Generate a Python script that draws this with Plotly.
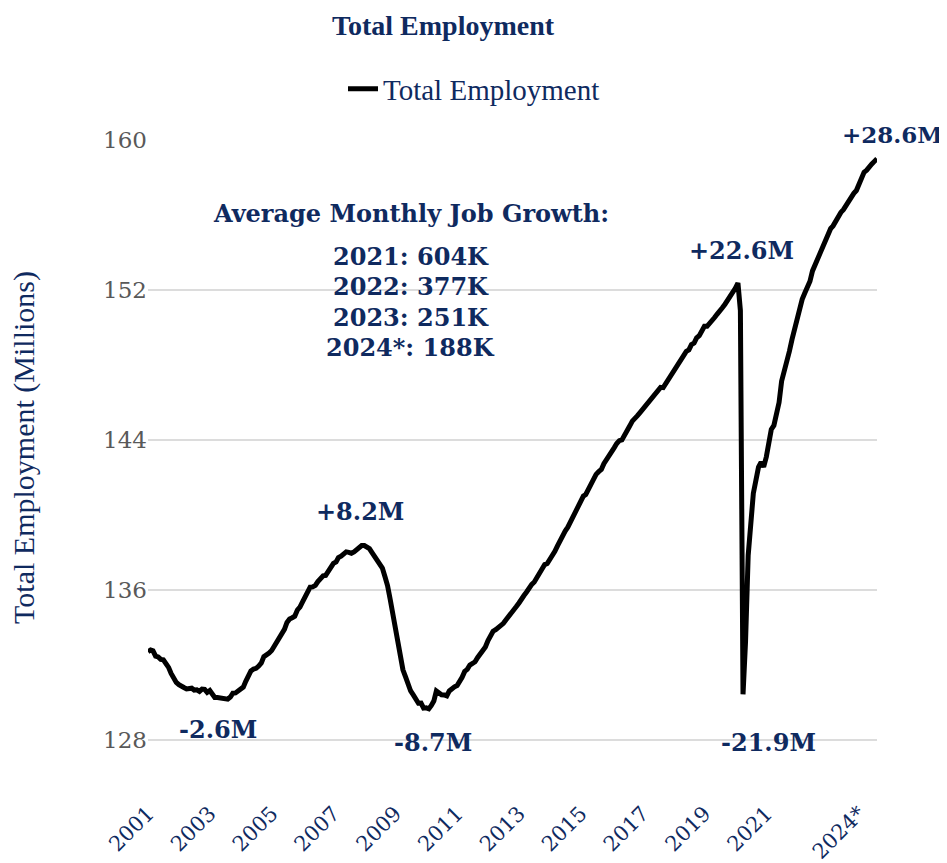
import pandas as pd
import plotly.graph_objects as go

# Total nonfarm employment, thousands, monthly Jan 2001 - Aug 2024
employment_thousands = [
    # 2001
    132698, 132789, 132747, 132463, 132419, 132291, 132267, 132110, 131864, 131538, 131230, 131062,
    # 2002
    130937, 130812, 130787, 130712, 130704, 130752, 130653, 130666, 130580, 130705, 130686, 130527,
    # 2003
    130627, 130468, 130257, 130254, 130226, 130222, 130215, 130165, 130279, 130483, 130498, 130602,
    # 2004
    130753, 130809, 131122, 131383, 131672, 131773, 131810, 131933, 132096, 132433, 132497, 132629,
    # 2005
    132766, 133004, 133129, 133482, 133647, 133894, 134258, 134446, 134512, 134589, 134925, 135081,
    # 2006
    135357, 135674, 135962, 136142, 136155, 136236, 136441, 136598, 136750, 136766, 136998, 137168,
    # 2007
    137407, 137488, 137723, 137800, 137952, 138023, 138000, 137954, 138024, 138114, 138226, 138363,
    # 2008
    138365, 138279, 138199, 137985, 137803, 137631, 137421, 137162, 136701, 136232, 135503, 134794,
    # 2009
    133996, 133258, 132438, 131735, 131375, 130909, 130604, 130390, 130151, 129950, 129960, 129687,
    # 2010
    129705, 129655, 129819, 130066, 130604, 130474, 130403, 130390, 130340, 130604, 130741, 130822,
    # 2011
    130894, 131105, 131336, 131650, 131754, 131986, 132056, 132162, 132392, 132589, 132727, 132948,
    # 2012
    133294, 133549, 133791, 133877, 133983, 134063, 134212, 134404, 134564, 134718, 134867, 135109,
    # 2013
    135299, 135586, 135695, 135883, 136116, 136292, 136419, 136658, 136838, 137066, 137347, 137403,
    # 2014
    137589, 137777, 138050, 138346, 138624, 138950, 139140, 139343, 139624, 139989, 140293, 140549,
    # 2015
    140726, 141003, 141087, 141394, 141711, 141887, 142160, 142304, 142419, 142731, 142973, 143227,
    # 2016
    143344, 143586, 143804, 143958, 144000, 144292, 144593, 144736, 144999, 145116, 145294, 145456,
    # 2017
    145636, 145805, 145915, 146097, 146229, 146428, 146611, 146805, 146788, 147006, 147231, 147378,
    # 2018
    147555, 147885, 148039, 148234, 148514, 148724, 148800, 149082, 149166, 149440, 149563, 149805,
    # 2019
    150057, 150058, 150233, 150449, 150528, 150714, 150839, 151047, 151239, 151435, 151667, 151769,
    # 2020
    152084, 152371, 150905, 130424, 133247, 137834, 139495, 141149, 141865, 142545, 142811, 142559,
    # 2021
    143084, 143770, 144556, 144773, 145320, 145998, 147136, 147613, 148067, 148727, 149362, 149950,
    # 2022
    150284, 151096, 151499, 151833, 152149, 152463, 153016, 153336, 153654, 153977, 154267, 154519,
    # 2023
    154995, 155282, 155418, 155696, 155974, 156134, 156286, 156527, 156805, 156970, 157152, 157304,
    # 2024
    157702, 157970, 158280, 158390, 158600, 158720, 158860, 159000,
]
employment_millions = [v / 1000 for v in employment_thousands]
months = pd.date_range("2001-01-01", periods=len(employment_thousands), freq="MS")

tick_dates = ["2001-01-01", "2003-01-01", "2005-01-01", "2007-01-01", "2009-01-01",
              "2011-01-01", "2013-01-01", "2015-01-01", "2017-01-01", "2019-01-01",
              "2021-01-01", "2024-01-01"]
tick_labels = ["2001", "2003", "2005", "2007", "2009", "2011", "2013", "2015",
               "2017", "2019", "2021", "2024*"]
y_ticks = [128, 136, 144, 152, 160]

# change labels (text, x date, y value)
change_labels = ["-2.6M", "+8.2M", "-8.7M", "+22.6M", "-21.9M"]
change_x = ["2003-04-10", "2007-11-15", "2010-03-17", "2020-03-15", "2021-01-30"]
change_y = [128.55, 140.2, 127.85, 154.1, 127.85]
latest_label = "+28.6M"

growth_header = "Average Monthly Job Growth:"
growth_lines = ["2021: 604K", "2022: 377K", "2023: 251K", "2024*: 188K"]
growth_y = [153.8, 152.2, 150.55, 148.95]

NAVY = "#0f2a5f"
SERIF = "DejaVu Serif"
COND = "Liberation Serif"

# page body has an 8px margin; the figure is sized to fit the window exactly
W, H = 939, 855

fig = go.Figure()
fig.add_trace(go.Scatter(
    x=months, y=employment_millions, mode="lines", name="Total Employment",
    line=dict(color="#000000", width=5),
))

bold = dict(family=SERIF, size=24, color=NAVY, weight="bold")
annotations = []
for t, x, y in zip(change_labels, change_x, change_y):
    annotations.append(dict(x=x, y=y, xref="x", yref="y", text=t, showarrow=False, font=bold))
# label attached to the last data point
annotations.append(dict(x=months[-1], y=employment_millions[-1], xref="x", yref="y",
                        text=latest_label, showarrow=False, xshift=15, yshift=24,
                        font=dict(family=SERIF, size=23, color=NAVY, weight="bold")))
annotations.append(dict(x="2009-07-01", y=156.1, xref="x", yref="y", text=growth_header,
                        showarrow=False, font=bold))
for t, y in zip(growth_lines, growth_y):
    annotations.append(dict(x="2009-07-01", y=y, xref="x", yref="y", text=t,
                            showarrow=False, font=bold))
# y-axis title
annotations.append(dict(x=(24 - 148) / 729, y=(796.25 - 448) / 656.25, xref="paper", yref="paper",
                        text="Total Employment (Millions)", textangle=-90, showarrow=False,
                        xanchor="center", yanchor="middle",
                        font=dict(family=COND, size=30, color=NAVY)))

fig.update_layout(
    width=W, height=H,
    template="none",
    paper_bgcolor="white", plot_bgcolor="white",
    margin=dict(l=140, r=70, t=132, b=67),
    title=dict(text="<b>Total Employment</b>", x=435 / W, xanchor="center",
               y=1 - 17 / H, yanchor="middle", xref="container", yref="container",
               font=dict(family=COND, size=28, color=NAVY)),
    showlegend=True,
    legend=dict(orientation="h", x=466 / W, xanchor="center", y=1 - 81 / H,
                yanchor="middle", xref="container", yref="container",
                font=dict(family=COND, size=29, color=NAVY), bgcolor="rgba(0,0,0,0)"),
    xaxis=dict(
        type="date", range=["2001-01-01", "2024-08-01"],
        tickvals=tick_dates, ticktext=tick_labels, tickangle=-45,
        tickfont=dict(family=SERIF, size=21, color=NAVY),
        showgrid=False, showline=False, zeroline=False, ticks="", automargin=False,
    ),
    yaxis=dict(
        range=[125, 160], tickvals=y_ticks,
        tickfont=dict(family=SERIF, size=23, color="#595959"),
        showgrid=True, gridcolor="#dcdcdc", gridwidth=1.5,
        showline=False, zeroline=False, ticks="", automargin=False,
    ),
    annotations=annotations,
)

fig.write_html("out.html")
